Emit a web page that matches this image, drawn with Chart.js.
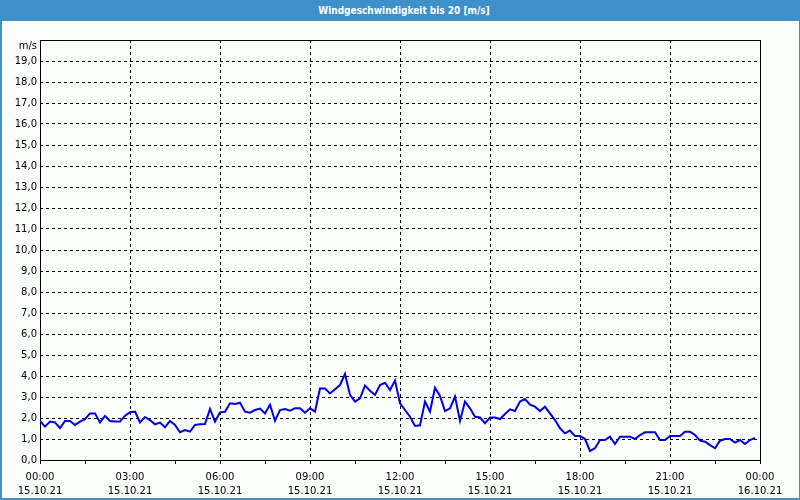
<!DOCTYPE html>
<html><head><meta charset="utf-8">
<script src="https://cdn.jsdelivr.net/npm/chart.js@4.4.0/dist/chart.umd.min.js"></script>
<style>
html,body{margin:0;padding:0;background:#fbfdfb;}
#wrap{position:relative;width:800px;height:500px;overflow:hidden;background:#fbfdfb;}
#title{position:absolute;left:0;top:0;width:800px;height:21px;background:#3d91c8;color:#fff;font:bold 10px 'DejaVu Sans Condensed','DejaVu Sans',sans-serif;line-height:21px;text-align:center;padding-left:8px;box-sizing:border-box;}
#frame{position:absolute;left:0;top:0;width:800px;height:500px;box-sizing:border-box;border:1px solid #3d91c8;border-left-width:2px;border-bottom-width:2px;pointer-events:none;}
canvas{position:absolute;left:0;top:0;}
</style></head>
<body>
<div id="wrap">
<canvas id="c" width="800" height="500"></canvas>
<div id="title">Windgeschwindigkeit bis 20 [m/s]</div>
<div id="frame"></div>
</div>
<script>
const titleText = 'Windgeschwindigkeit bis 20 [m/s]';
const unitLabel = 'm/s';
const intervalMinutes = 10;
const windSpeed = [
 1.86,1.59,1.83,1.79,1.52,1.86,1.86,1.67,1.83,1.94,2.22,2.22,1.79,2.10,1.86,1.83,1.83,2.11,
 2.27,2.30,1.79,2.05,1.90,1.70,1.78,1.56,1.86,1.67,1.32,1.43,1.35,1.67,1.70,1.71,2.43,1.83,
 2.27,2.30,2.70,2.67,2.73,2.30,2.25,2.38,2.45,2.22,2.63,1.87,2.38,2.43,2.35,2.46,2.46,2.25,
 2.46,2.30,3.41,3.41,3.17,3.37,3.57,4.10,3.10,2.78,2.94,3.54,3.30,3.10,3.57,3.68,3.33,3.78,
 2.70,2.38,2.06,1.62,1.65,2.78,2.30,3.44,3.05,2.33,2.46,3.02,1.86,2.78,2.46,2.06,2.03,1.75,
 2.02,2.02,1.95,2.19,2.41,2.33,2.78,2.90,2.63,2.54,2.33,2.54,2.22,1.90,1.51,1.27,1.40,1.14,
 1.14,1.00,0.43,0.56,0.95,0.95,1.11,0.76,1.11,1.11,1.11,1.00,1.19,1.32,1.32,1.32,0.95,0.95,
 1.14,1.14,1.14,1.35,1.35,1.19,0.92,0.87,0.71,0.56,0.92,1.00,1.00,0.83,0.95,0.76,0.95,1.05
];
const xTickTimes = ['00:00','03:00','06:00','09:00','12:00','15:00','18:00','21:00','00:00'];
const xTickDates = ['15.10.21','15.10.21','15.10.21','15.10.21','15.10.21','15.10.21','15.10.21','15.10.21','16.10.21'];
const xMajorStep = 180;
const xMinorStep = 90;
const xMax = 1440;
const yMin = 0, yMax = 20, yStep = 1;

const points = windSpeed.map((v, i) => ({x: i * intervalMinutes, y: v}));

const framePlugin = {
  id: 'frameAndUnit',
  beforeDatasetsDraw(chart) {
    const {ctx, chartArea: a} = chart;
    ctx.save();
    ctx.strokeStyle = '#000';
    ctx.lineWidth = 1;
    ctx.setLineDash([]);
    ctx.strokeRect(Math.round(a.left) + 0.5, Math.round(a.top) + 0.5, Math.round(a.right - a.left), Math.round(a.bottom - a.top));
    ctx.fillStyle = '#000';
    ctx.font = '10px "DejaVu Sans"';
    ctx.textAlign = 'right';
    ctx.textBaseline = 'middle';
    ctx.fillText(unitLabel, a.left - 3, chart.scales.y.getPixelForValue(yMax) + 6);
    ctx.restore();
  }
};

new Chart(document.getElementById('c'), {
  type: 'line',
  data: { datasets: [{
    label: titleText,
    data: points,
    borderColor: '#0000e0',
    borderWidth: 2,
    pointRadius: 0,
    tension: 0,
    fill: false
  }]},
  options: {
    responsive: false,
    animation: false,
    layout: { padding: { top: 40, right: 40, left: 0, bottom: 0 } },
    plugins: { legend: { display: false }, tooltip: { enabled: false }, title: { display: false } },
    scales: {
      x: {
        type: 'linear', min: 0, max: xMax,
        afterFit: s => { s.height = 40; },
        ticks: {
          stepSize: xMinorStep, autoSkip: false, maxRotation: 0, padding: 6,
          color: '#000', font: { family: 'DejaVu Sans', size: 10, lineHeight: 1.4 },
          callback: v => (v % xMajorStep === 0) ? [xTickTimes[v / xMajorStep], xTickDates[v / xMajorStep]] : ''
        },
        grid: {
          color: c => (c.tick && c.tick.value % xMajorStep === 0) ? '#000' : 'rgba(0,0,0,0)',
          lineWidth: 1, tickColor: '#000', tickLength: 4, drawTicks: true
        },
        border: { display: false, dash: [3, 3] }
      },
      y: {
        min: yMin, max: yMax,
        afterFit: s => { s.width = 40; },
        ticks: {
          stepSize: yStep, padding: 3, color: '#000',
          font: { family: 'DejaVu Sans', size: 10 },
          callback: v => v === yMax ? '' : v.toFixed(1).replace('.', ',')
        },
        grid: { color: '#000', lineWidth: 1, drawTicks: false },
        border: { display: false, dash: [3, 3] }
      }
    }
  },
  plugins: [framePlugin]
});
</script>
</body></html>
